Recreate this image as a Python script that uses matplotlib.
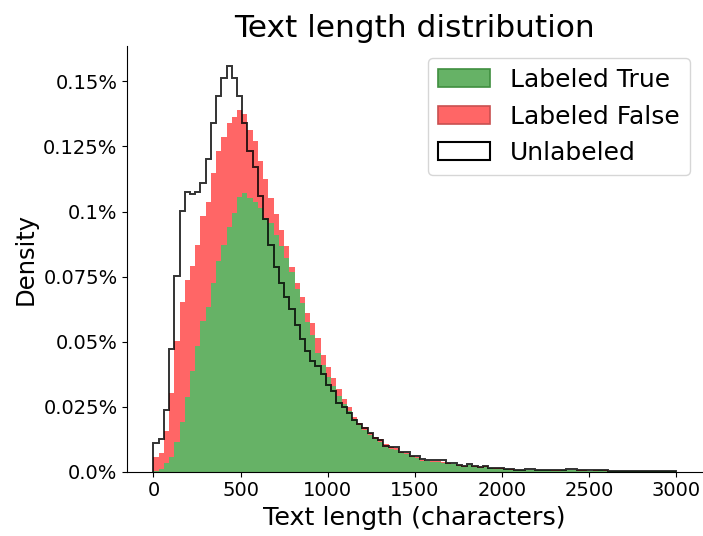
#!/usr/bin/env python3

import numpy as np
import matplotlib
matplotlib.use("Agg")
import matplotlib.pyplot as plt
from matplotlib.patches import Patch
from matplotlib.ticker import MultipleLocator, FuncFormatter


######################## data (density in %, 30-char bins) ########################

bin_edges = np.arange(0, 3001, 30)

labeled_true = [
    0.0003, 0.0010, 0.0032, 0.0055, 0.0115, 0.0192, 0.0288, 0.0388, 0.0485, 0.0581,
    0.0632, 0.0727, 0.0808, 0.0872, 0.0942, 0.0994, 0.1055, 0.1071, 0.1052, 0.1036,
    0.1013, 0.0975, 0.0955, 0.0910, 0.0869, 0.0821, 0.0769, 0.0702, 0.0648, 0.0577,
    0.0526, 0.0455, 0.0410, 0.0365, 0.0330, 0.0290, 0.0260, 0.0232, 0.0203, 0.0180,
    0.0162, 0.0142, 0.0125, 0.0115, 0.0095, 0.0088, 0.0085, 0.0070, 0.0068, 0.0055,
    0.0052, 0.0042, 0.0040, 0.0038, 0.0038, 0.0035, 0.0030, 0.0028, 0.0022, 0.0018,
    0.0024, 0.0019, 0.0016, 0.0018, 0.0013, 0.0012, 0.0012, 0.0010, 0.0008, 0.0006,
    0.0006, 0.0007, 0.0007, 0.0006, 0.0005, 0.0005, 0.0004, 0.0004, 0.0005, 0.0007,
    0.0006, 0.0004, 0.0004, 0.0003, 0.0004, 0.0005, 0.0004, 0.0003, 0.0003, 0.0003,
    0.0002, 0.0003, 0.0002, 0.0002, 0.0002, 0.0002, 0.0002, 0.0002, 0.0002, 0.0001,
]

labeled_false = [
    0.0055, 0.0072, 0.0156, 0.0302, 0.0503, 0.0651, 0.0736, 0.0791, 0.0872, 0.0981,
    0.1038, 0.1148, 0.1231, 0.1288, 0.1340, 0.1363, 0.1391, 0.1376, 0.1312, 0.1272,
    0.1195, 0.1125, 0.1052, 0.0991, 0.0930, 0.0868, 0.0788, 0.0725, 0.0670, 0.0610,
    0.0570, 0.0515, 0.0449, 0.0402, 0.0359, 0.0317, 0.0280, 0.0250, 0.0212, 0.0186,
    0.0171, 0.0150, 0.0135, 0.0125, 0.0105, 0.0096, 0.0092, 0.0075, 0.0073, 0.0060,
    0.0056, 0.0046, 0.0042, 0.0040, 0.0042, 0.0038, 0.0032, 0.0030, 0.0025, 0.0021,
    0.0026, 0.0020, 0.0018, 0.0020, 0.0014, 0.0013, 0.0013, 0.0011, 0.0009, 0.0007,
    0.0007, 0.0008, 0.0008, 0.0007, 0.0006, 0.0006, 0.0005, 0.0005, 0.0006, 0.0008,
    0.0007, 0.0005, 0.0005, 0.0004, 0.0005, 0.0006, 0.0005, 0.0004, 0.0004, 0.0004,
    0.0003, 0.0004, 0.0003, 0.0003, 0.0003, 0.0003, 0.0003, 0.0003, 0.0002, 0.0002,
]

unlabeled = [
    0.0112, 0.0127, 0.0236, 0.0471, 0.0753, 0.1002, 0.1075, 0.1068, 0.1074, 0.1109,
    0.1201, 0.1340, 0.1446, 0.1513, 0.1560, 0.1513, 0.1445, 0.1340, 0.1234, 0.1170,
    0.1058, 0.0971, 0.0873, 0.0785, 0.0725, 0.0671, 0.0626, 0.0562, 0.0510, 0.0465,
    0.0427, 0.0407, 0.0375, 0.0335, 0.0310, 0.0265, 0.0248, 0.0225, 0.0200, 0.0182,
    0.0167, 0.0148, 0.0128, 0.0122, 0.0098, 0.0096, 0.0094, 0.0077, 0.0075, 0.0062,
    0.0060, 0.0048, 0.0043, 0.0043, 0.0046, 0.0043, 0.0034, 0.0033, 0.0025, 0.0020,
    0.0030, 0.0022, 0.0019, 0.0021, 0.0015, 0.0014, 0.0015, 0.0011, 0.0010, 0.0006,
    0.0006, 0.0009, 0.0009, 0.0008, 0.0006, 0.0006, 0.0006, 0.0005, 0.0006, 0.0009,
    0.0009, 0.0005, 0.0005, 0.0005, 0.0005, 0.0008, 0.0005, 0.0004, 0.0004, 0.0004,
    0.0003, 0.0003, 0.0003, 0.0003, 0.0003, 0.0003, 0.0002, 0.0002, 0.0002, 0.0002,
]

labels = ["Labeled True", "Labeled False", "Unlabeled"]

GREEN = "#66b266"
RED = "#ff6666"


######################## plot ########################

fig = plt.figure(figsize=(7.03, 5.36), dpi=100)
ax = fig.add_axes([0.181, 0.12, 0.818, 0.795])

ax.stairs(labeled_false, bin_edges, fill=True, color=RED, lw=0, zorder=1)
ax.stairs(labeled_true, bin_edges, fill=True, color=GREEN, lw=0, zorder=2)
ax.stairs(unlabeled, bin_edges, baseline=0, fill=False, color="black",
          alpha=0.8, lw=1.4, zorder=3)

ax.margins(x=0.05, y=0.05)
ax.set_ylim(bottom=0)
ax.set_xlim(-150, 3150)

ax.spines["top"].set_visible(False)
ax.spines["right"].set_visible(False)

ax.yaxis.set_major_locator(MultipleLocator(0.025))
ax.yaxis.set_major_formatter(FuncFormatter(lambda v, p: f"{round(v, 3)}%"))
ax.xaxis.set_major_locator(MultipleLocator(500))
ax.tick_params(labelsize=14)

ax.set_title("Text length distribution", fontsize=22.5)
ax.set_xlabel("Text length (characters)", fontsize=18.3)
ax.set_ylabel("Density", fontsize=17.5)

handles = [
    Patch(facecolor=GREEN, edgecolor="#3f8f3f", lw=1.2),
    Patch(facecolor=RED, edgecolor="#c85050", lw=1.2),
    Patch(facecolor="white", edgecolor="black", lw=1.5),
]
ax.legend(handles, labels, loc="upper right", fontsize=18,
          handlelength=2.1, handleheight=0.75, labelspacing=0.5)

fig.savefig("out.png", dpi=100)
